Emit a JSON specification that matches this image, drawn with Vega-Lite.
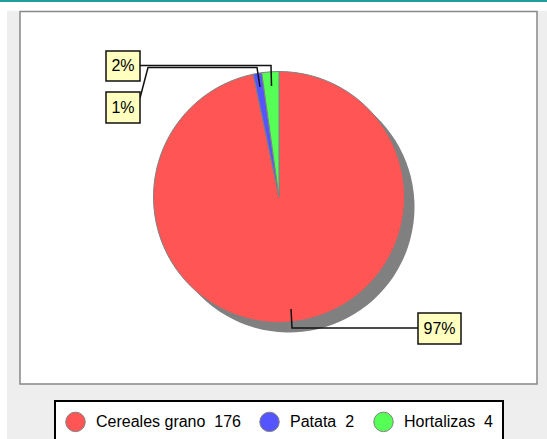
{
  "$schema": "https://vega.github.io/schema/vega-lite/v6.json",
  "width": 547,
  "height": 439,
  "autosize": "none",
  "padding": 0,
  "background": "white",
  "config": {
    "view": {"stroke": null},
    "font": "Liberation Sans",
    "legend": {
      "orient": "none",
      "legendX": 55,
      "legendY": 401,
      "direction": "horizontal",
      "fillColor": "white",
      "strokeColor": "black",
      "strokeWidth": 2,
      "padding": 10,
      "symbolType": "circle",
      "symbolSize": 380,
      "symbolStrokeColor": "#808080",
      "symbolStrokeWidth": 1,
      "symbolOpacity": 1,
      "labelFont": "Liberation Sans",
      "labelFontSize": 16,
      "labelColor": "black",
      "labelOffset": 10,
      "columnPadding": 16,
      "labelLimit": 300,
      "title": null
    }
  },
  "datasets": {
    "crops": [
      {"idx": 1, "name": "Cereales grano\u00a0 176", "value": 176},
      {"idx": 2, "name": "Patata\u00a0 2", "value": 2},
      {"idx": 3, "name": "Hortalizas\u00a0 4", "value": 4}
    ],
    "labels": [
      {"pct": "2%", "x1": 106, "x2": 140, "y1": 51, "y2": 81, "cx": 123, "cy": 66},
      {"pct": "1%", "x1": 106, "x2": 140, "y1": 92, "y2": 123, "cx": 123, "cy": 107.5},
      {"pct": "97%", "x1": 418, "x2": 461, "y1": 313, "y2": 344, "cx": 439.5, "cy": 328.5}
    ],
    "leaders": [
      {"id": "2%", "seq": 1, "x": 140, "y": 65.5},
      {"id": "2%", "seq": 2, "x": 271, "y": 65.5},
      {"id": "2%", "seq": 3, "x": 271.5, "y": 86},
      {"id": "1%", "seq": 1, "x": 140, "y": 98},
      {"id": "1%", "seq": 2, "x": 148, "y": 67.5},
      {"id": "1%", "seq": 3, "x": 257, "y": 67.5},
      {"id": "1%", "seq": 4, "x": 260, "y": 87},
      {"id": "97%", "seq": 1, "x": 291, "y": 309},
      {"id": "97%", "seq": 2, "x": 292, "y": 328},
      {"id": "97%", "seq": 3, "x": 418, "y": 328}
    ]
  },
  "layer": [
    {
      "data": {"values": [{}]},
      "mark": {"type": "rect", "fill": "#1f9e9e"},
      "encoding": {
        "x": {"datum": 0, "type": "quantitative", "scale": {"domain": [0, 547], "nice": false, "zero": false}, "axis": null},
        "x2": {"datum": 547},
        "y": {"datum": 0, "type": "quantitative", "scale": {"domain": [0, 439], "nice": false, "zero": false, "reverse": true}, "axis": null},
        "y2": {"datum": 2}
      }
    },
    {
      "data": {"values": [{}]},
      "mark": {"type": "rect", "fill": "#eeeeee"},
      "encoding": {
        "x": {"datum": 7, "type": "quantitative"},
        "x2": {"datum": 547},
        "y": {"datum": 11, "type": "quantitative"},
        "y2": {"datum": 439}
      }
    },
    {
      "data": {"values": [{}]},
      "mark": {"type": "rect", "fill": "white", "stroke": "#888888", "strokeWidth": 1.5},
      "encoding": {
        "x": {"datum": 20, "type": "quantitative"},
        "x2": {"datum": 537},
        "y": {"datum": 11.5, "type": "quantitative"},
        "y2": {"datum": 384}
      }
    },
    {
      "data": {"name": "crops"},
      "mark": {"type": "arc", "outerRadius": 125.5, "fill": "#808080", "xOffset": 10, "yOffset": 10},
      "encoding": {
        "theta": {"field": "value", "type": "quantitative", "stack": true},
        "order": {"field": "idx"},
        "x": {"datum": 279, "type": "quantitative"},
        "y": {"datum": 197, "type": "quantitative"}
      }
    },
    {
      "data": {"name": "crops"},
      "mark": {"type": "arc", "outerRadius": 125.5, "stroke": "#808080", "strokeWidth": 1},
      "encoding": {
        "theta": {"field": "value", "type": "quantitative", "stack": true},
        "order": {"field": "idx"},
        "color": {
          "field": "name",
          "type": "nominal",
          "scale": {
            "domain": ["Cereales grano\u00a0 176", "Patata\u00a0 2", "Hortalizas\u00a0 4"],
            "range": ["#ff5555", "#5555ff", "#55ff55"]
          }
        },
        "x": {"datum": 279, "type": "quantitative"},
        "y": {"datum": 197, "type": "quantitative"}
      }
    },
    {
      "data": {"name": "leaders"},
      "mark": {"type": "line", "stroke": "#111111", "strokeWidth": 1.5},
      "encoding": {
        "x": {"field": "x", "type": "quantitative"},
        "y": {"field": "y", "type": "quantitative"},
        "detail": {"field": "id"},
        "order": {"field": "seq"}
      }
    },
    {
      "data": {"name": "labels"},
      "mark": {"type": "rect", "fill": "#c8c8c8", "xOffset": 5, "yOffset": 5},
      "encoding": {
        "x": {"field": "x1", "type": "quantitative"},
        "x2": {"field": "x2"},
        "y": {"field": "y1", "type": "quantitative"},
        "y2": {"field": "y2"}
      }
    },
    {
      "data": {"name": "labels"},
      "mark": {"type": "rect", "fill": "#ffffc0", "stroke": "#111111", "strokeWidth": 1.5},
      "encoding": {
        "x": {"field": "x1", "type": "quantitative"},
        "x2": {"field": "x2"},
        "y": {"field": "y1", "type": "quantitative"},
        "y2": {"field": "y2"}
      }
    },
    {
      "data": {"name": "labels"},
      "mark": {"type": "text", "font": "Liberation Sans", "fontSize": 16, "color": "black", "align": "center", "baseline": "middle"},
      "encoding": {
        "x": {"field": "cx", "type": "quantitative"},
        "y": {"field": "cy", "type": "quantitative"},
        "text": {"field": "pct"}
      }
    }
  ]
}
